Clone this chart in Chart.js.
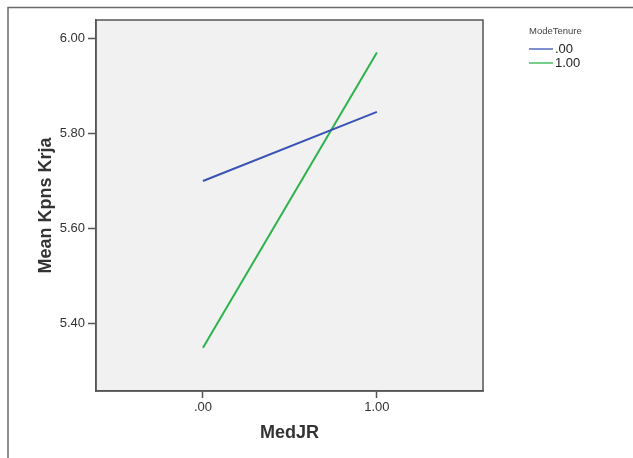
<!DOCTYPE html>
<html>
<head>
<meta charset="utf-8">
<script src="https://cdn.jsdelivr.net/npm/chart.js@4"></script>
<style>
html,body{margin:0;padding:0;background:#fff;}
#wrap{width:633px;height:458px;}
</style>
</head>
<body>
<div id="wrap"><canvas id="c" width="633" height="458"></canvas></div>
<script>
// Data
const xValues = [0, 1];
const seriesNames = ['.00', '1.00'];
const seriesBlue = [5.70, 5.845];
const seriesGreen = [5.35, 5.97];
const xTickValues = [0, 1];
const yTickValues = [5.40, 5.60, 5.80, 6.00];
const legendTitle = 'ModeTenure';
const xTitle = 'MedJR';
const yTitle = 'Mean Kpns Krja';

const FONT = "Arial, 'Liberation Sans', sans-serif";
const colors = ['#3a52b4', '#2db34c'];

const frameAndBg = {
  id: 'frameAndBg',
  beforeDraw(chart) {
    const {ctx, chartArea: a} = chart;
    ctx.save();
    ctx.fillStyle = '#f1f1f1';
    ctx.fillRect(a.left, a.top, a.right - a.left, a.bottom - a.top);
    // outer frame
    ctx.strokeStyle = '#6a6a6a';
    ctx.lineWidth = 1.5;
    ctx.beginPath();
    ctx.moveTo(8, 458);
    ctx.lineTo(8, 7.5);
    ctx.lineTo(633, 7.5);
    ctx.stroke();
    ctx.restore();
  },
  afterDraw(chart) {
    const {ctx, chartArea: a} = chart;
    ctx.save();
    ctx.strokeStyle = '#555';
    ctx.lineWidth = 1.5;
    ctx.strokeRect(a.left, a.top, a.right - a.left, a.bottom - a.top);
    // legend
    ctx.fillStyle = '#444';
    ctx.font = '9.5px ' + FONT;
    ctx.textBaseline = 'middle';
    ctx.textAlign = 'left';
    ctx.fillText(legendTitle, 529, 31);
    chart.data.datasets.forEach((ds, i) => {
      const y = 49 + i * 14;
      ctx.strokeStyle = ds.borderColor;
      ctx.lineWidth = 1.3;
      ctx.beginPath();
      ctx.moveTo(529, y);
      ctx.lineTo(553, y);
      ctx.stroke();
      ctx.fillStyle = '#222';
      ctx.font = '13px ' + FONT;
      ctx.fillText(ds.label, 555, y);
    });
    ctx.restore();
  }
};

new Chart(document.getElementById('c'), {
  type: 'line',
  data: {
    datasets: [
      {label: seriesNames[0], data: xValues.map((x, i) => ({x, y: seriesBlue[i]})), borderColor: colors[0], borderWidth: 2, pointRadius: 0, fill: false},
      {label: seriesNames[1], data: xValues.map((x, i) => ({x, y: seriesGreen[i]})), borderColor: colors[1], borderWidth: 2, pointRadius: 0, fill: false}
    ]
  },
  options: {
    responsive: false,
    animation: false,
    layout: {padding: {left: 0, right: 150, top: 20, bottom: 0}},
    plugins: {legend: {display: false}, tooltip: {enabled: false}},
    scales: {
      x: {
        type: 'linear',
        min: -0.615,
        max: 1.61,
        afterBuildTicks(s) { s.ticks = xTickValues.map(v => ({value: v})); },
        afterFit(s) { s.height = 67; },
        grid: {drawOnChartArea: false, drawTicks: true, tickLength: 7, color: '#555', tickWidth: 1.5},
        border: {display: true, color: '#555', width: 1.5},
        ticks: {
          padding: 2,
          color: '#333',
          font: {family: FONT, size: 13},
          maxRotation: 0,
          callback: v => v === 0 ? '.00' : v.toFixed(2)
        },
        title: {display: true, text: xTitle, color: '#333', font: {family: FONT, size: 18, weight: 'bold'}, padding: {top: 0, bottom: 14}}
      },
      y: {
        type: 'linear',
        min: 5.259,
        max: 6.038,
        afterBuildTicks(s) { s.ticks = yTickValues.map(v => ({value: v})); },
        afterFit(s) { s.width = 96; },
        grid: {drawOnChartArea: false, drawTicks: true, tickLength: 8, color: '#555', tickWidth: 1.5},
        border: {display: true, color: '#555', width: 1.5},
        ticks: {
          padding: 3,
          color: '#333',
          font: {family: FONT, size: 13},
          callback: v => v.toFixed(2)
        },
        title: {display: true, text: yTitle, color: '#333', font: {family: FONT, size: 18, weight: 'bold'}, padding: {top: 35, bottom: 0}}
      }
    }
  },
  plugins: [frameAndBg]
});
</script>
</body>
</html>
